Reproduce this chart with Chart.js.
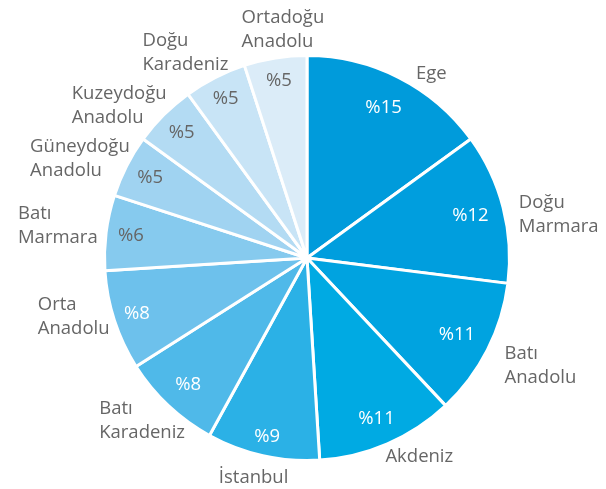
<!DOCTYPE html>
<html>
<head>
<meta charset="utf-8">
<script src="https://cdn.jsdelivr.net/npm/chart.js@4.4.1/dist/chart.umd.min.js"></script>
<style>
  body { margin: 0; background: #fff; }
  #wrap { width: 606px; height: 489px; }
</style>
</head>
<body>
<div id="wrap"><canvas id="pie" width="606" height="489"></canvas></div>
<script>
// bölgeler ve payları (%)
const regions = ['Ege', 'Doğu Marmara', 'Batı Anadolu', 'Akdeniz', 'İstanbul', 'Batı Karadeniz',
  'Orta Anadolu', 'Batı Marmara', 'Güneydoğu Anadolu', 'Kuzeydoğu Anadolu', 'Doğu Karadeniz', 'Ortadoğu Anadolu'];
const shares = [15, 12, 11, 11, 9, 8, 8, 6, 5, 5, 5, 5];

const sliceColors = ['#009bdb', '#009ede', '#00a3e0', '#00aae3', '#2bb1e6', '#4fb9e9',
  '#6dc1ec', '#86caee', '#a0d3f1', '#b3dbf3', '#c8e4f6', '#dbecf8'];
const pctColors = ['#fff', '#fff', '#fff', '#fff', '#fff', '#fff', '#fff',
  '#666', '#666', '#666', '#666', '#666'];
// etiket yerleşimi: yüzde yazısının yarıçap oranı, dış etiket kaydırması (px)
const pctRadius = [0.833, 0.833, 0.831, 0.864, 0.904, 0.858, 0.883, 0.876, 0.869, 0.876, 0.884, 0.888];
const labelNudge = [[22, 16], [8, 19], [14, -4], [21, -12], [-4, -1], [4, -17],
  [2, -18], [1, -1], [3, 18], [-11, 25], [-12, 10], [13, 6]];

const fontFam = '"Open Sans", sans-serif';
const lineH = 24;

const labelPlugin = {
  id: 'sliceLabels',
  afterDatasetsDraw(chart) {
    const ctx = chart.ctx;
    const meta = chart.getDatasetMeta(0);
    ctx.save();
    ctx.font = '18.5px ' + fontFam;
    ctx.textBaseline = 'middle';
    meta.data.forEach((arc, i) => {
      const a = (arc.startAngle + arc.endAngle) / 2;
      const R = arc.outerRadius;
      const cx = Math.cos(a), sy = Math.sin(a);

      // yüzde etiketi
      ctx.textAlign = 'center';
      ctx.fillStyle = pctColors[i];
      const pr = R * pctRadius[i];
      ctx.fillText('%' + shares[i], arc.x + cx * pr, arc.y + sy * pr);

      // bölge adı
      const lines = regions[i].split(' ');
      const w = Math.max(...lines.map(l => ctx.measureText(l).width));
      const h = lines.length * lineH;
      const ext = Math.sqrt(Math.pow(w / 2 * cx, 2) + Math.pow(h / 2 * sy, 2));
      const d = R + 10 + ext;
      const bx = arc.x + cx * d - w / 2 + labelNudge[i][0];
      const by = arc.y + sy * d - h / 2 + labelNudge[i][1];
      ctx.textAlign = 'left';
      ctx.fillStyle = '#666';
      lines.forEach((l, j) => ctx.fillText(l, bx, by + lineH * (j + 0.5)));
    });
    ctx.restore();
  }
};

new Chart(document.getElementById('pie'), {
  type: 'pie',
  data: {
    labels: regions,
    datasets: [{
      data: shares,
      backgroundColor: sliceColors,
      borderColor: '#fff',
      borderWidth: 3,
    }]
  },
  options: {
    responsive: false,
    animation: false,
    layout: { padding: { left: 103, right: 95, top: 54, bottom: 27 } },
    plugins: {
      legend: { display: false },
      tooltip: { enabled: false },
    }
  },
  plugins: [labelPlugin]
});
</script>
</body>
</html>
